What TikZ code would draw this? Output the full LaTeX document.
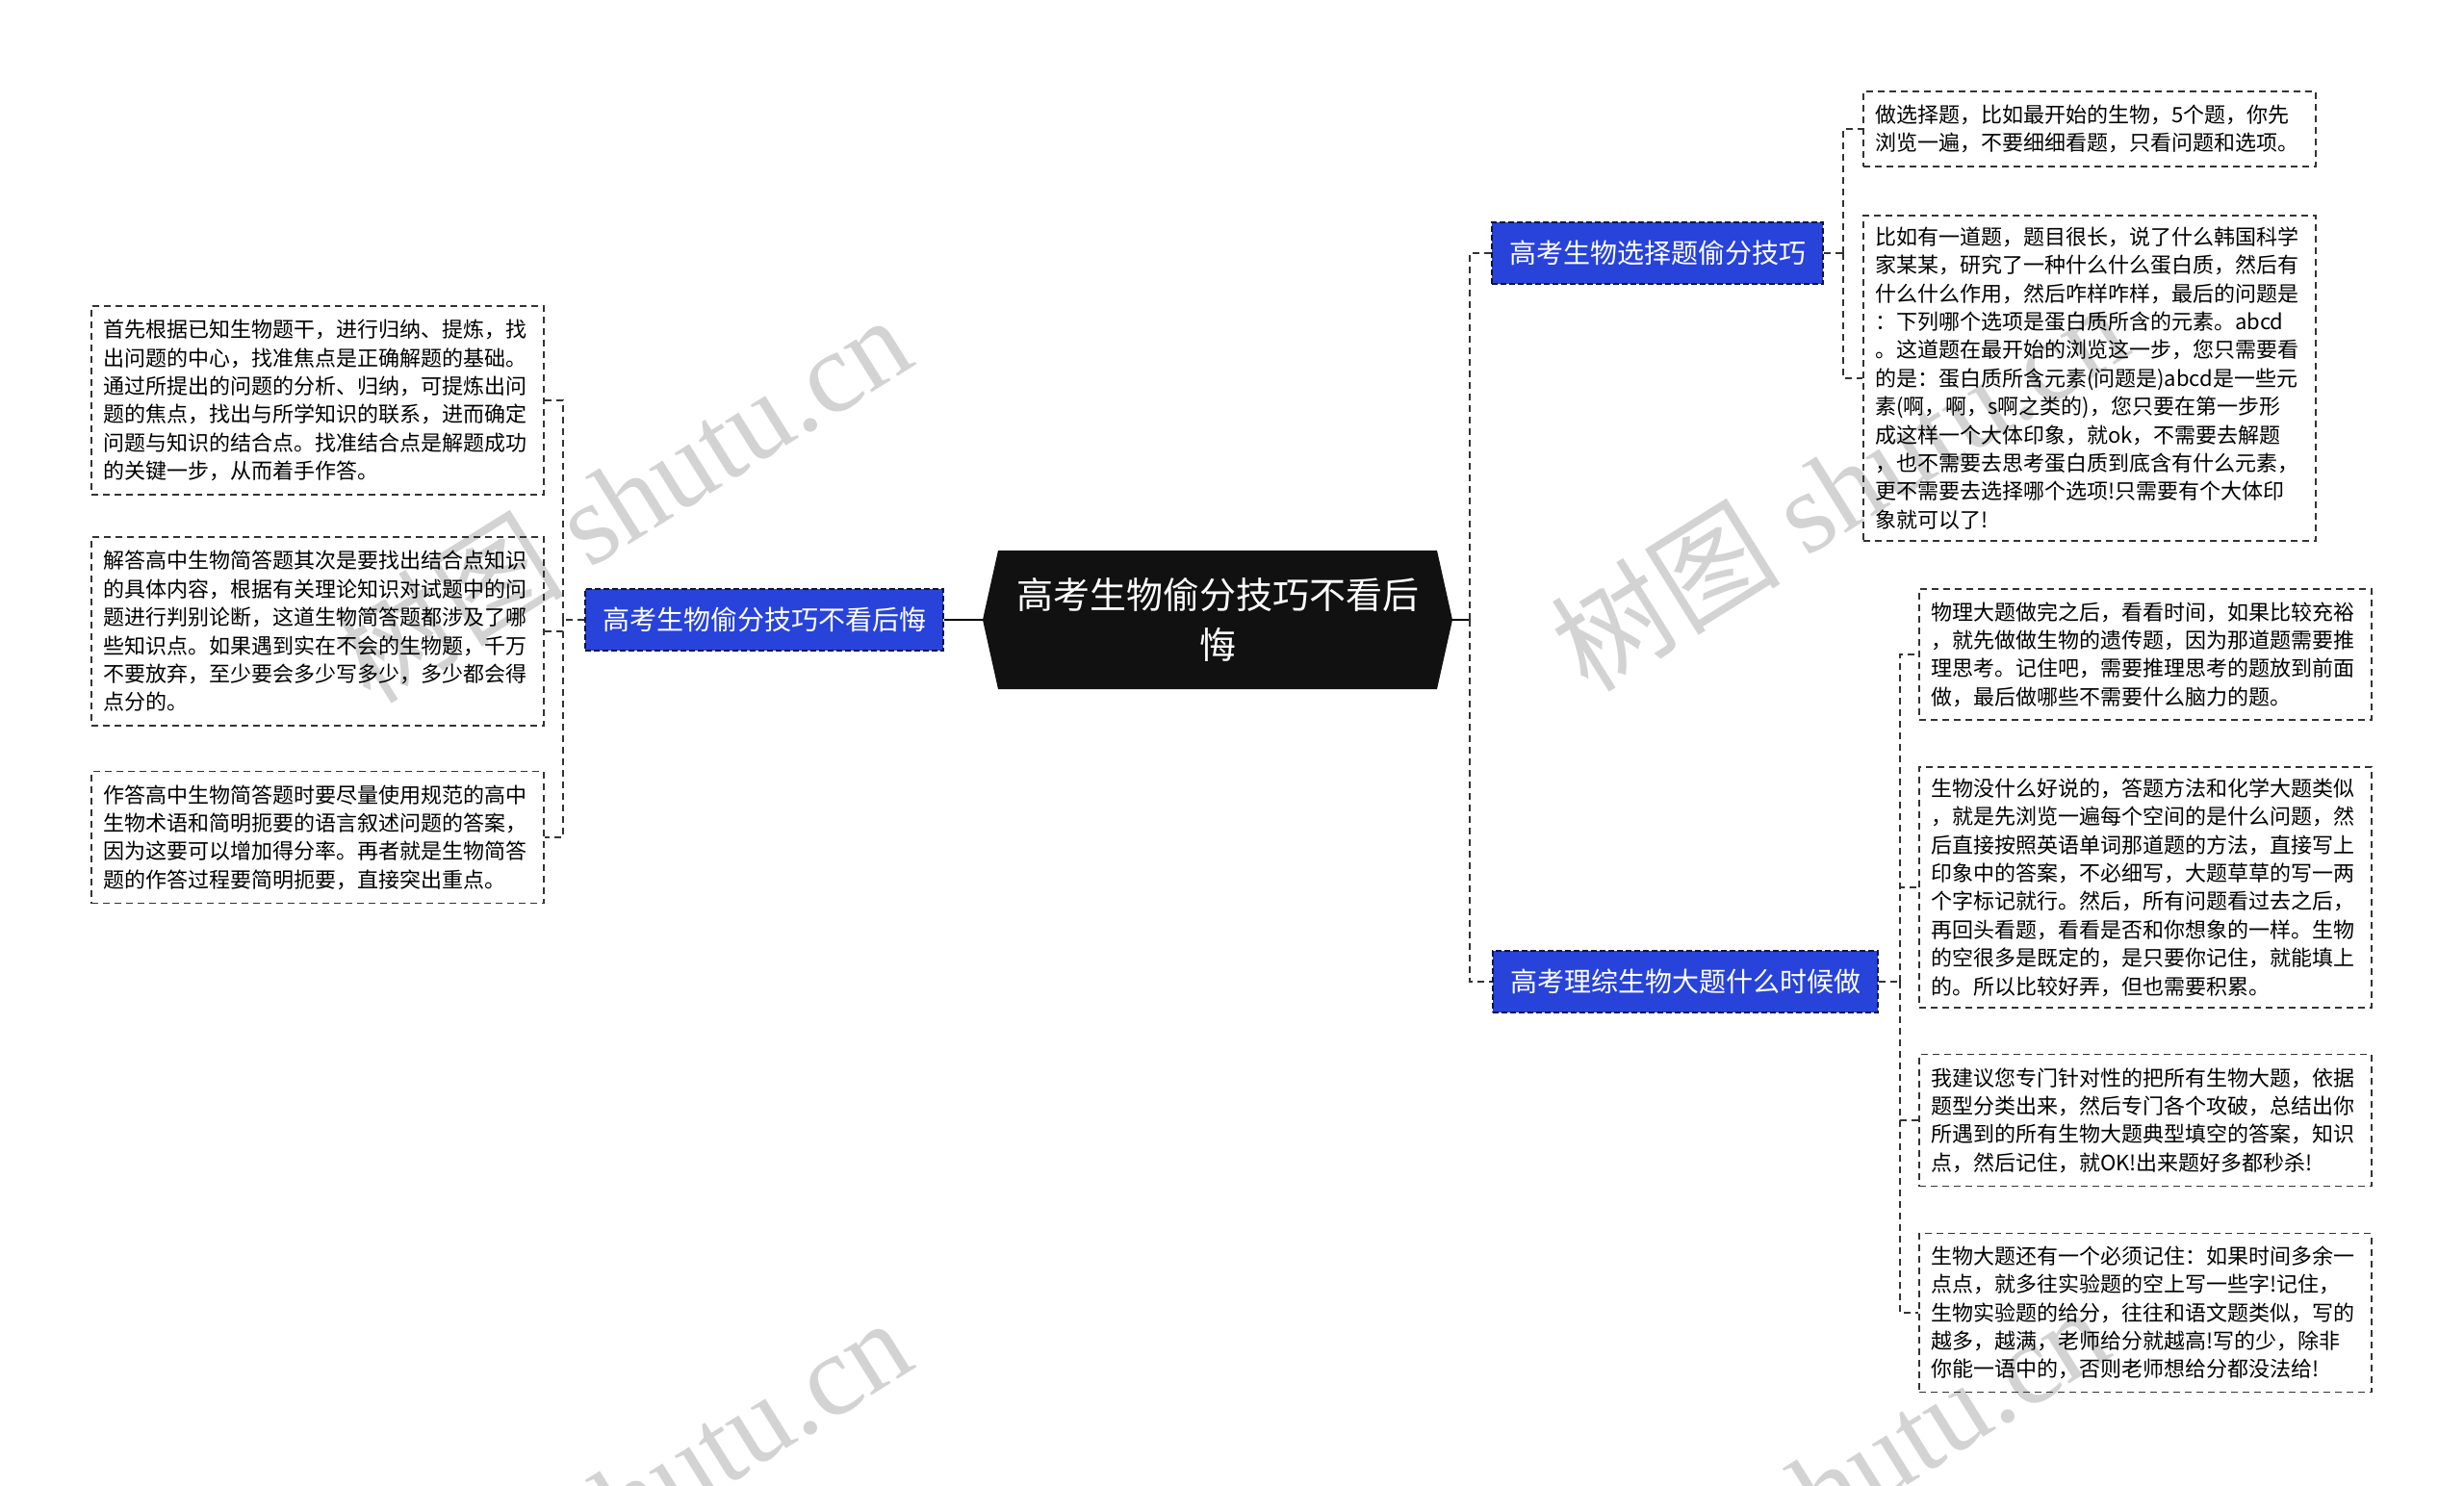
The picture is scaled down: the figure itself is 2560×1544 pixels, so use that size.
\documentclass[tikz,border=0pt]{standalone}
\usepackage{fontspec}
\setmainfont{Noto Sans CJK SC}
\newfontfamily\wmlatin{Liberation Serif}
\usetikzlibrary{calc}
\definecolor{nodeblue}{HTML}{2843D9}
\definecolor{edgecol}{HTML}{333333}
\definecolor{wmgray}{HTML}{D3D3D3}
\definecolor{rootfill}{HTML}{111111}
\tikzset{
  leaf/.style={draw=edgecol, line width=1.6pt, dash pattern=on 7pt off 5pt,
    align=left, text width=446pt, inner xsep=12pt, inner ysep=8pt,
    font=\fontsize{22}{29.4}\selectfont, anchor=center},
  topic/.style={fill=nodeblue, draw=black!70!nodeblue, line width=1.6pt,
    dash pattern=on 6pt off 3pt, text=white, font=\fontsize{28}{34}\selectfont,
    inner xsep=18pt, minimum height=64pt, anchor=center},
  rootnode/.style={text=white, align=center, font=\fontsize{38}{52}\selectfont,
    minimum width=488pt, minimum height=144pt, inner sep=0pt},
  conn/.style={draw=edgecol, line width=1.8pt, dash pattern=on 7pt off 5pt},
  solidconn/.style={draw=black, line width=2.2pt},
  wm/.style={text=wmgray, rotate=32, font=\fontsize{120}{120}\selectfont, inner sep=0pt}
}
\begin{document}
\begin{tikzpicture}[x=1pt,y=-1pt]
\useasboundingbox (0,0) rectangle (2560,1544);
% watermarks
\begin{scope}
\clip (0,0) rectangle (2560,1544);
\node[wm] (wm1) at (646,517) {树图 {\wmlatin shutu.cn}};
\node[wm] (wm2) at (1910,505) {树图 {\wmlatin shutu.cn}};
\node[wm] (wm3) at (646,1559) {树图 {\wmlatin shutu.cn}};
\node[wm] (wm4) at (1890,1547) {树图 {\wmlatin shutu.cn}};
\end{scope}
% root
\fill[rootfill] (1021,644) -- (1037,572) -- (1493,572) -- (1509,644) -- (1493,716) -- (1037,716) -- cycle;
\node[rootnode] (root) at (1265,644) {高考生物偷分技巧不看后\\悔};
% main topics
\node[topic] (LB) at (794,644) {高考生物偷分技巧不看后悔};
\node[topic] (R1) at (1722,263) {高考生物选择题偷分技巧};
\node[topic] (R2) at (1751,1020) {高考理综生物大题什么时候做};
% leaves right 1
\node[leaf, minimum height=78pt] (C1) at (2171,134) {做选择题，比如最开始的生物，5个题，你先\\浏览一遍，不要细细看题，只看问题和选项。};
\node[leaf, minimum height=338pt] (C2) at (2171,393) {比如有一道题，题目很长，说了什么韩国科学\\家某某，研究了一种什么什么蛋白质，然后有\\什么什么作用，然后咋样咋样，最后的问题是\\：下列哪个选项是蛋白质所含的元素。abcd\\。这道题在最开始的浏览这一步，您只需要看\\的是：蛋白质所含元素(问题是)abcd是一些元\\素(啊，啊，s啊之类的)，您只要在第一步形\\成这样一个大体印象，就ok，不需要去解题\\，也不需要去思考蛋白质到底含有什么元素，\\更不需要去选择哪个选项!只需要有个大体印\\象就可以了!};
% leaves right 2
\node[leaf, minimum height=136pt] (D1) at (2229,680) {物理大题做完之后，看看时间，如果比较充裕\\，就先做做生物的遗传题，因为那道题需要推\\理思考。记住吧，需要推理思考的题放到前面\\做，最后做哪些不需要什么脑力的题。};
\node[leaf, minimum height=250pt] (D2) at (2229,922) {生物没什么好说的，答题方法和化学大题类似\\，就是先浏览一遍每个空间的是什么问题，然\\后直接按照英语单词那道题的方法，直接写上\\印象中的答案，不必细写，大题草草的写一两\\个字标记就行。然后，所有问题看过去之后，\\再回头看题，看看是否和你想象的一样。生物\\的空很多是既定的，是只要你记住，就能填上\\的。所以比较好弄，但也需要积累。};
\node[leaf, minimum height=137pt] (D3) at (2229,1164) {我建议您专门针对性的把所有生物大题，依据\\题型分类出来，然后专门各个攻破，总结出你\\所遇到的所有生物大题典型填空的答案，知识\\点，然后记住，就OK!出来题好多都秒杀!};
\node[leaf, minimum height=165pt] (D4) at (2229,1364) {生物大题还有一个必须记住：如果时间多余一\\点点，就多往实验题的空上写一些字!记住，\\生物实验题的给分，往往和语文题类似，写的\\越多，越满，老师给分就越高!写的少，除非\\你能一语中的，否则老师想给分都没法给!};
% leaves left
\node[leaf, minimum height=196pt] (L1) at (330,416) {首先根据已知生物题干，进行归纳、提炼，找\\出问题的中心，找准焦点是正确解题的基础。\\通过所提出的问题的分析、归纳，可提炼出问\\题的焦点，找出与所学知识的联系，进而确定\\问题与知识的结合点。找准结合点是解题成功\\的关键一步，从而着手作答。};
\node[leaf, minimum height=196pt] (L2) at (330,656) {解答高中生物简答题其次是要找出结合点知识\\的具体内容，根据有关理论知识对试题中的问\\题进行判别论断，这道生物简答题都涉及了哪\\些知识点。如果遇到实在不会的生物题，千万\\不要放弃，至少要会多少写多少，多少都会得\\点分的。};
\node[leaf, minimum height=137pt] (L3) at (330,870) {作答高中生物简答题时要尽量使用规范的高中\\生物术语和简明扼要的语言叙述问题的答案，\\因为这要可以增加得分率。再者就是生物简答\\题的作答过程要简明扼要，直接突出重点。};
% trunk coordinates
\coordinate (lt) at (585,644);
\coordinate (rt) at (1527,644);
\coordinate (r1t) at (1915,263);
\coordinate (r2t) at (1974,1020);
% connectors
\draw[solidconn] (root.west) -- (LB.east);
\draw[conn] (LB.west) -- (lt);
\draw[conn] (lt) |- (L1.east);
\draw[conn] (lt) |- (L2.east);
\draw[conn] (lt) |- (L3.east);
\draw[solidconn] (1509,644) -- (rt);
\draw[conn] (rt) |- (R1.west);
\draw[conn] (rt) |- (R2.west);
\draw[conn] (R1.east) -- (r1t);
\draw[conn] (r1t) |- (C1.west);
\draw[conn] (r1t) |- (C2.west);
\draw[conn] (R2.east) -- (r2t);
\draw[conn] (r2t) |- (D1.west);
\draw[conn] (r2t) |- (D2.west);
\draw[conn] (r2t) |- (D3.west);
\draw[conn] (r2t) |- (D4.west);
\end{tikzpicture}
\end{document}
